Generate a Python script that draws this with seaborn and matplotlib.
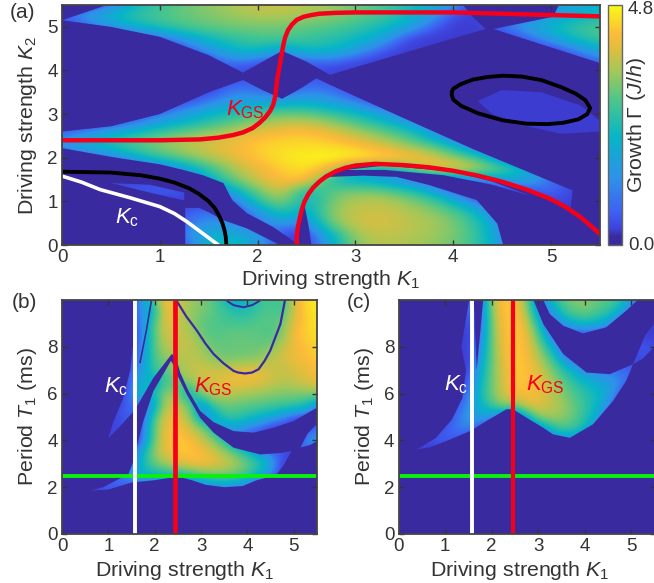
import numpy as np
import matplotlib
matplotlib.use("Agg")
import matplotlib.pyplot as plt
from matplotlib.cm import ScalarMappable
from matplotlib.colors import LinearSegmentedColormap, Normalize
from matplotlib.patches import Polygon
import seaborn as sns

# Panel (a): growth rate, rows K2 = 5.5 ... 0 in steps of 0.25
GAMMA_A = [
    [0,0,.4,1.5,2,2.5,2.8,3.1,3.4,3.4,3.2,3,2.6,2.3,1.8,1.4,.8,0,0,.3,.8,1.2,1.3],
    [.4,1,1.5,2,2.3,2.5,2.7,2.9,3.1,3.1,3,2.8,2.5,2.2,1.6,1,.2,0,.2,.5,.9,1.3,1.6],
    [0,.3,.8,1.3,1.8,2.2,2.4,2.6,2.6,2.6,2.4,2.3,2,1.7,1.2,.5,0,0,.5,1,1.5,2,2.3],
    [0,0,0,0,.3,1,1.6,2,2.2,2.3,2.1,1.9,1.6,1.2,.3,0,0,0,0,.4,1,1.7,2.2],
    [0,0,0,0,0,.2,.9,1.5,1.8,1.1,1.7,1.6,1.1,.5,0,0,0,0,0,0,.1,.7,1.3],
    [0,0,0,0,0,0,.2,.8,.5,.1,.5,.6,.3,0,0,0,0,0,0,0,0,.1,.6],
    [0,0,0,0,0,0,0,.2,0,0,.2,0,0,0,0,0,0,0,0,0,0,0,0],
    [0,0,0,0,0,0,0,.3,.3,0,.4,.3,0,0,0,0,0,0,0,0,0,0,0],
    [0,0,0,0,0,0,.1,.7,.6,.3,.7,.6,.2,0,0,0,0,0,0,0,0,0,0],
    [0,0,0,0,0,.2,.7,1,1.1,1.2,1.3,1,.7,.2,0,0,0,0,0,0,0,0,0],
    [0,0,0,.2,.5,1,1.4,1.8,2.2,2.6,2.5,2.1,1.6,1.1,.4,0,0,0,0,0,0,0,0],
    [0,.1,.3,.6,1.2,1.6,2.1,2.6,3.1,3.4,3.5,3.1,2.5,1.9,1.3,.6,0,0,0,0,0,0,0],
    [.6,1,1.5,2,2.5,2.9,3.2,3.5,3.9,4.1,4.2,3.9,3.4,2.9,2.3,1.3,.2,0,0,0,0,0,0],
    [.8,1.3,1.8,2.3,2.8,3.2,3.5,3.8,4.2,4.4,4.4,4.4,4.1,3.6,3.1,2.5,1.6,.2,0,0,0,0,0],
    [0,.1,.3,1.2,1.9,2.5,3.1,3.6,4.1,4.5,4.7,4.8,4.8,4.6,4.2,3.8,2.9,2.1,.2,0,0,0,0],
    [0,0,0,0,.1,.9,2,3,3.7,4.2,4.5,3.7,1.6,1.2,2,3.6,4,3.4,2.5,1.3,.3,0,0],
    [0,0,0,.1,.1,.1,1.2,2.6,3.4,4,4.2,1.5,1.2,1,.3,0,0,.3,1,1.2,.5,0,0],
    [0,0,.2,.3,.4,.3,0,1.2,2.6,3.6,1.5,2.4,2.6,2.5,2,1.2,.2,0,0,.2,.5,.1,0],
    [0,0,0,0,0,0,0,.2,1.8,3,1.2,2.6,3.2,3.3,2.9,2.4,1.4,.3,0,0,.2,0,0],
    [0,0,0,0,0,.3,.6,.1,.6,2,1,2.9,3.3,3.4,3.2,2.9,2.4,1.4,.2,0,0,0,0],
    [0,0,0,0,0,.4,.9,.7,.3,1,.4,2.6,3.4,3.5,3.3,3.1,2.7,1.9,.5,0,0,0,0],
    [0,0,0,0,0,.6,1.4,1.2,.9,.2,0,1.4,3,3.3,3.2,3,2.7,2,.7,0,0,0,0],
    [0,0,0,0,0,.1,1.5,1.8,1,.1,0,1,2.8,3.2,3.1,2.9,2.6,2,.8,0,0,0,0],
]

# Panel (b): rows T1 = 10 ... 0 in steps of 0.5
GAMMA_B = [
    [0]*6+[.2,.9,2.5,4,3.5,3,2.7,2.4,1.7,1.2,1.4,2,2.2,2,3.4,4.4,4.6],
    [0]*6+[.1,.9,1.5,3.9,3.4,2.9,2.7,2.4,2.1,1.8,1.8,2.1,2.4,2,3.4,4.2,4.6],
    [0]*6+[.1,.7,2.4,3.7,3.3,3,2.4,2.3,2.2,2.2,2.2,2.4,2.3,2.6,3.6,4.2,4.5],
    [0]*6+[.1,.6,2.4,3.5,3.3,3.2,2.6,2.3,2.4,2.5,2.5,2.4,2.2,2.7,3.8,4.2,4.4],
    [0]*6+[.1,.7,2.4,3.2,3.3,3.3,3,2.5,2.5,2.5,2.5,2.5,2.7,3.3,3.7,4,4.3],
    [0]*6+[.2,.8,2.3,2.8,3.1,3.2,3.1,2.8,2.6,2.6,2.7,2.8,3.2,3.4,3.7,3.9,4.2],
    [0]*6+[.3,1,2.1,2.4,3,3.2,3.5,3.4,3.4,3.6,3.7,3.6,3.4,3.3,3.4,3.6,3.9],
    [0]*6+[.4,1.6,1,2.2,2.3,2.9,3.3,3.5,3.6,3.8,3.8,3.6,3.4,3.2,3.3,3.5,3.7],
    [0]*6+[.5,1.8,1.5,3.1,2.6,1,2.9,3.2,3.3,3.1,3,2.9,2.8,2.7,2.7,2.7,2.8],
    [0]*5+[.2,.5,.3,1,3.4,3.2,2.6,.3,2.2,2.5,2.5,2.4,2.3,2.2,2.1,2,1.8,.6],
    [0]*5+[.2,.4,0,2.2,3.7,3.6,3,1,.7,2,2,1.7,1.4,1.1,.7,.2,0,0],
    [0]*4+[.1,.2,.2,.3,2.6,3.7,4,3.4,2.9,1.8,.4,1,.6,.4,0,0,0,.1,.5],
    [0]*4+[.1,0,0,.3,2.6,3.8,4.2,3.9,3.4,2.8,1.9,.4,0,0,0,0,0,.8,1],
    [0]*6+[0,1.4,3,3.6,4.1,4.2,3.9,3.5,3,2.4,1.6,.8,.4,.3,.1,.3,0],
    [0]*6+[.3,1.7,2.5,3,3.4,3.7,3.9,3.7,3.5,3.1,2.6,2,1.2,.1,0,0,0],
    [0]*4+[.3,.6,1,1.4,1.4,1.6,1.6,1.8,2.2,2.5,2.5,2.4,2,1.3,.5,0,0,0,0],
    [0,0,0,.2,.4,.3,.2,.1,.1,.1,.1,.1,.1,.5,.7,.5,.2,0,0,0,0,0,0],
    [0]*23, [0]*23, [0]*23, [0]*23,
]

# Panel (c): rows T1 = 10 ... 0 in steps of 0.5
GAMMA_C = [
    [0]*6+[.8,0,3,4.2,4,2.6,.2,1.5,2.3,2.7,2.8,2.5,2.3,2,1,0,0],
    [0]*6+[.6,0,2.8,4.1,4.1,3,.7,.6,1.9,2.4,2.6,2.3,2,1.2,.3,0,0],
    [0]*6+[.3,0,2.7,4,4.2,3.4,1.6,0,.8,1.3,1.6,1.3,.9,.1,0,0,0],
    [0]*6+[.1,.3,2.6,3.9,4.2,3.7,2.3,.5,0,0,0,0,0,0,0,0,0],
    [0]*6+[.1,.6,2.6,3.8,4.2,3.8,2.8,1.5,.2,0,0,0,0,0,0,.4,.1],
    [0]*6+[0,.9,2.5,3.7,4.2,3.9,3.2,2.3,1,.2,0,0,0,0,0,.3,0],
    [0]*6+[.1,1.2,2.6,3.6,4.2,4,3.5,2.8,2,1.3,.7,.5,.5,.5,.5,0,0],
    [0]*6+[.3,1.4,2.6,3.5,4.1,4,3.7,3.2,2.5,1.9,1.5,1.2,1,.7,.3,0,0],
    [0]*5+[.2,.5,1.6,2.6,3.5,3.9,3.9,3.7,3.3,2.8,2.3,1.9,1.6,1.1,.4,0,0,0],
    [0]*5+[.3,.8,1.4,2.2,2.9,2.6,3.6,3.6,3.3,3,2.5,2,1.5,.7,0,0,0,0],
    [0]*4+[.1,.5,.9,1.2,.5,0,0,1,2.9,3,2.9,2.5,1.9,1.2,.2,0,0,0,0],
    [0,0,0,.1,.3,.6,.7,0,0,0,0,0,.2,1.6,2.2,2.1,1.5,.5,0,0,0,0,0],
    [0,0,.1,.3,.4,.2,0,0,0,0,0,0,0,0,.5,.5,.1,0,0,0,0,0,0],
    [0]*23, [0]*23, [0]*23, [0]*23, [0]*23, [0]*23, [0]*23, [0]*23,
]

# Outlines of the non-zero regions as (K1, K2 or T1)
REGIONS_A = [
    [(0,5.15),(.46,5.5),(4.1,5.5),(4.2,5.22),(4.33,4.95),(3.87,4.65),(2.74,3.9),(2.5,4.2),(2.25,4.45),(2.05,4.2),(1.85,3.95),(1.5,4.35),(1,4.77),(.5,5.0)],
    [(4.41,4.95),(5.02,5.23),(5.08,5.5),(5.5,5.5),(5.5,4.17)],
    [(0,2.6),(.5,2.72),(1,3.0),(1.3,3.3),(1.5,3.5),(1.85,3.78),(2.05,3.55),(2.25,3.35),(2.45,3.6),(2.6,3.82),(2.74,3.67),(3.5,2.9),(4.2,2.2),(5.22,1.25),(5.2,.85),(5,1.05),(4.5,1.45),(4,1.7),(3.5,1.83),(3,1.82),(2.8,1.69),(2.63,1.45),(2.52,1.17),(2.45,.8),(2.41,.4),(2.38,.07),(2.16,.41),(1.89,.73),(1.74,1.03),(1.65,1.42),(1.44,1.6),(1.24,1.72),(1,1.85),(.5,2.02),(0,2.22)],
    [(2.55,0),(2.52,.45),(2.48,.9),(2.53,1.25),(2.64,1.45),(2.74,1.56),(3.08,1.59),(3.42,1.56),(3.76,1.37),(4.24,1.03),(4.45,.49),(4.51,0)],
    [(2.9,1.72),(3.3,1.82),(4,1.68),(4.4,1.45),(4.8,1.12),(4.4,1.38),(3.9,1.6),(3.3,1.72)],
    [(1.26,0),(1.26,.85),(1.4,.85),(1.5,.75),(1.65,.57),(1.89,.38),(2.2,.03),(2.2,0)],
    [(.5,1.42),(.9,1.38),(1.25,1.2),(1.25,1.02),(.9,1.2)],
    [(4.25,3.3),(4.5,3.55),(4.9,3.5),(5.3,3.2),(5.5,2.85),(5.5,2.6),(5.1,2.55),(4.7,2.75),(4.4,3.0)],
]
REGIONS_B = [
    [(1.0,4.1),(1.1,4.75),(1.32,5.8),(1.47,7),(1.55,8.4),(1.62,10),(5.5,10),(5.5,5.4),(5,4.83),(4.56,4.54),(4.13,4.33),(3.7,4.4),(3.27,4.78),(2.98,5.26),(2.73,6.11),(2.55,6.9),(2.47,7.47),(2.37,7.7),(1.97,6.67),(1.68,5.67),(1.57,5.3),(1.25,4.6)],
    [(2.35,7.4),(1.97,6.1),(1.75,4.8),(1.61,3.7),(1.54,3.1),(1.43,2.55),(1.18,2.3),(.89,2.0),(.6,1.85),(1,1.9),(1.5,2.2),(2,2.3),(2.5,2.45),(2.8,2.3),(3.1,2.1),(3.5,2),(3.9,2.05),(4.2,2.3),(4.4,2.4),(4.63,2.54),(4.8,3),(4.95,3.55),(4.7,3.46),(4.27,3.4),(3.7,3.69),(3.27,4.33),(2.98,4.97),(2.69,5.97),(2.51,6.69),(2.44,7.1)],
    [(5.14,3.69),(5.3,4.3),(5.5,4.7),(5.5,3.97),(5.35,3.8)],
]
REGIONS_C = [
    [(.39,3.61),(.8,4.1),(1.15,4.9),(1.37,5.8),(1.45,7),(1.35,8),(1.52,10),(1.62,10),(1.68,7),(1.82,10),(2.9,10),(3.11,8.97),(3.54,7.69),(4.04,6.9),(4.54,6.83),(5.04,7.26),(4.89,6.54),(4.61,5.69),(4.18,4.69),(3.68,4.11),(3.32,4.26),(3.11,4.54),(2.75,4.97),(2.46,5.33),(2.32,5.33),(1.89,4.83),(1.54,4.4),(1.11,4.04),(.68,3.71)],
    [(5.04,7.26),(5.3,8.5),(5.5,9.0),(5.5,8),(5.25,7.5)],
    [(3.11,10),(3.25,9.4),(3.54,8.9),(3.96,8.57),(4.46,8.83),(4.89,9.54),(5.14,10)],
]

# Curves of panel (a)
KGS_UPPER_K1 = [0, .5, 1, 1.41, 1.6, 1.75, 1.85, 1.95, 2.02, 2.08, 2.13, 2.16, 2.18, 2.19, 2.2, 2.22, 2.24, 2.26, 2.28, 2.31, 2.35, 2.4, 2.47, 2.55, 2.63, 2.8, 3, 4, 5, 5.5]
KGS_UPPER_K2 = [2.4, 2.4, 2.4, 2.42, 2.46, 2.52, 2.58, 2.68, 2.8, 2.93, 3.08, 3.22, 3.4, 3.6, 3.8, 4.05, 4.3, 4.55, 4.75, 4.92, 5.05, 5.16, 5.23, 5.27, 5.3, 5.32, 5.33, 5.33, 5.27, 5.24]
KGS_LOWER_K1 = [2.4, 2.4, 2.41, 2.43, 2.45, 2.48, 2.52, 2.57, 2.63, 2.7, 2.8, 2.9, 3, 3.2, 3.5, 3.75, 4, 4.25, 4.5, 4.75, 5, 5.15, 5.3, 5.4, 5.5]
KGS_LOWER_K2 = [0, .2, .4, .6, .8, 1, 1.17, 1.32, 1.45, 1.57, 1.69, 1.77, 1.82, 1.86, 1.83, 1.78, 1.7, 1.59, 1.45, 1.27, 1.05, .87, .64, .45, .25]
BLACK_K1 = [0, .5, .8, 1, 1.15, 1.3, 1.4, 1.5, 1.56, 1.6, 1.64, 1.66, 1.675, 1.68]
BLACK_K2 = [1.68, 1.66, 1.6, 1.52, 1.43, 1.3, 1.17, 1.0, .85, .7, .5, .35, .18, 0]
WHITE_K1 = [0, .2, .39, .7, 1, 1.15, 1.28, 1.4, 1.49, 1.55, 1.6]
WHITE_K2 = [1.58, 1.44, 1.27, 1.08, .88, .72, .53, .33, .18, .08, 0]
ELLIPSE_K1 = [3.98, 4.0, 4.07, 4.2, 4.35, 4.51, 4.7, 4.9, 5.1, 5.25, 5.35, 5.4, 5.37, 5.28, 5.12, 4.96, 4.75, 4.5, 4.25, 4.08, 4.0, 3.98]
ELLIPSE_K2 = [3.48, 3.58, 3.68, 3.79, 3.85, 3.88, 3.86, 3.78, 3.62, 3.47, 3.32, 3.14, 3.0, 2.88, 2.8, 2.77, 2.78, 2.86, 3.02, 3.19, 3.33, 3.48]

# Thin dark arcs of panel (b)
ARC_U_K1 = [2.47, 2.68, 2.91, 3.09, 3.27, 3.48, 3.70, 3.8, 3.95, 4.1, 4.24, 4.37, 4.49, 4.6, 4.71, 4.81]
ARC_U_T1 = [9.97, 9.3, 8.69, 8.15, 7.69, 7.3, 6.97, 6.9, 6.86, 6.9, 7.04, 7.4, 7.83, 8.4, 8.97, 10]
ARC_TOP_K1 = [3.55, 3.7, 3.91, 4.1, 4.27]
ARC_TOP_T1 = [9.97, 9.78, 9.69, 9.78, 9.97]
ARC_LEFT_K1 = [1.93, 1.82, 1.68]
ARC_LEFT_T1 = [10, 8.7, 7.3]

KC_B, KGS_B, KC_C, KGS_C, T_LINE = 1.57, 2.43, 1.58, 2.45, 2.5
RED, GREEN = "#F5001A", "#0CF00C"

sns.set_theme(style="ticks")
plt.rcParams.update({
    "font.family": ["Liberation Sans", "DejaVu Sans"],
    "mathtext.fontset": "custom",
    "mathtext.rm": "Liberation Sans",
    "mathtext.it": "Liberation Sans:italic",
    "mathtext.bf": "Liberation Sans:bold",
    "text.color": "#333333",
    "axes.labelcolor": "#333333",
    "xtick.color": "#333333",
    "ytick.color": "#333333",
})

DARK = "#3A2A9F"
RAMP = [(0.14, "#3E62F2"), (0.28, "#2E92EA"), (0.45, "#06B5C8"), (0.60, "#4AC68C"),
        (0.72, "#A0C85A"), (0.82, "#E0BE3E"), (0.88, "#FDBB3A"), (1.00, "#F9FB15")]
inside = LinearSegmentedColormap.from_list("inside", [
    (0.0, "#3D3CD0"), (0.03, "#3D48E0"), (0.08, "#3E62F2"), (0.16, "#2E92EA"),
    (0.30, "#06B5C8"), (0.47, "#4AC68C"), (0.62, "#A0C85A"), (0.74, "#E0BE3E"),
    (0.82, "#FDBB3A"), (1.00, "#F9FB15")], N=512)
parula = LinearSegmentedColormap.from_list(
    "parula_like", [(0.0, DARK), (0.035, DARK), (0.07, "#3D44DC")] + RAMP, N=512)
NORM = Normalize(0, 4.8)

W, H = 654, 583
fig = plt.figure(figsize=(W / 100, H / 100), dpi=100)


def new_axes(left, top, right, bottom):
    return fig.add_axes([left / W, 1 - bottom / H, (right - left) / W, (bottom - top) / H])


def panel(ax, grid, regions, y_step, y_max, yticks, ylabel, xpad, xlabel_x):
    extent = [-0.125, 5.625, -y_step / 2, y_max + y_step / 2]
    ax.set_facecolor(DARK)
    data = np.array(grid, float)
    for outline in regions:
        im = ax.imshow(data, cmap=inside, norm=NORM, extent=extent, aspect="auto",
                       interpolation="bicubic", interpolation_stage="data")
        im.set_clip_path(Polygon(outline, closed=True, transform=ax.transData))
    ax.set_xlim(0, 5.5)
    ax.set_ylim(0, y_max)
    ax.set_xticks(range(6))
    ax.set_yticks(yticks)
    ax.tick_params(direction="in", top=True, right=True, length=3.5, width=1,
                   labelsize=13.5, pad=3)
    ax.set_xlabel(r"Driving strength $K_1$", fontsize=15.4, labelpad=xpad, x=xlabel_x)
    ax.set_ylabel(ylabel, fontsize=15.4, labelpad=6)
    for s in ax.spines.values():
        s.set_color("#444444")
        s.set_linewidth(1.3)


def curve(ax, x, y, color, lw):
    sns.lineplot(x=x, y=y, ax=ax, color=color, linewidth=lw, sort=False, estimator=None,
                 legend=False, solid_capstyle="butt")


# Panel (a)
ax_a = new_axes(62, 5, 600, 245)
panel(ax_a, GAMMA_A, REGIONS_A, 0.25, 5.5, range(6), r"Driving strength $K_2$", 1, 0.5)
curve(ax_a, WHITE_K1, WHITE_K2, "white", 2.6)
curve(ax_a, BLACK_K1, BLACK_K2, "black", 2.8)
curve(ax_a, ELLIPSE_K1, ELLIPSE_K2, "black", 2.8)
curve(ax_a, KGS_UPPER_K1, KGS_UPPER_K2, RED, 3.2)
curve(ax_a, KGS_LOWER_K1, KGS_LOWER_K2, RED, 3.2)
ax_a.text(1.68, 3.1, r"$K_{\mathrm{GS}}$", color=RED, fontsize=16, va="center")
ax_a.text(0.54, 0.62, r"$K_{\mathrm{c}}$", color="white", fontsize=16, va="center")

cax = new_axes(608, 5, 622, 245)
cb = fig.colorbar(ScalarMappable(norm=NORM, cmap=parula), cax=cax)
cb.set_ticks([])
cb.outline.set_edgecolor("#666666")
cb.outline.set_linewidth(1)
fig.text(628 / W, 1 - 9 / H, "4.8", fontsize=13.5, va="center", ha="left")
fig.text(628 / W, 1 - 245 / H, "0.0", fontsize=13.5, va="center", ha="left")
fig.text(637 / W, 1 - 125 / H, r"Growth Γ ($J/h$)", fontsize=15.4, rotation=90,
         va="center", ha="center")

# Panel (b)
ax_b = new_axes(62, 300, 317, 534)
panel(ax_b, GAMMA_B, REGIONS_B, 0.5, 10, [0, 2, 4, 6, 8], r"Period $T_1$ (ms)", 3, 0.48)
curve(ax_b, ARC_U_K1, ARC_U_T1, DARK, 1.6)
curve(ax_b, ARC_TOP_K1, ARC_TOP_T1, DARK, 1.4)
curve(ax_b, ARC_LEFT_K1, ARC_LEFT_T1, DARK, 1.2)
curve(ax_b, [0, 5.5], [T_LINE, T_LINE], GREEN, 2.8)
curve(ax_b, [KC_B, KC_B], [0, 10], "white", 2.8)
curve(ax_b, [KGS_B, KGS_B], [0, 10], RED, 3.4)
ax_b.text(0.9, 6.3, r"$K_{\mathrm{c}}$", color="white", fontsize=16, va="center")
ax_b.text(2.85, 6.3, r"$K_{\mathrm{GS}}$", color=RED, fontsize=16, va="center")

# Panel (c)
ax_c = new_axes(398.5, 300, 654.5, 534)
panel(ax_c, GAMMA_C, REGIONS_C, 0.5, 10, [0, 2, 4, 6, 8], r"Period $T_1$ (ms)", 3, 0.473)
curve(ax_c, [0, 5.5], [T_LINE, T_LINE], GREEN, 2.8)
curve(ax_c, [KC_C, KC_C], [0, 10], "white", 2.8)
curve(ax_c, [KGS_C, KGS_C], [0, 10], RED, 3.0)
ax_c.text(0.97, 6.4, r"$K_{\mathrm{c}}$", color="white", fontsize=16, va="center")
ax_c.text(2.75, 6.4, r"$K_{\mathrm{GS}}$", color=RED, fontsize=16, va="center")

fig.text(10 / W, 1 - 12 / H, "(a)", fontsize=15, va="center", ha="left")
fig.text(12 / W, 1 - 303 / H, "(b)", fontsize=15, va="center", ha="left")
fig.text(347 / W, 1 - 303 / H, "(c)", fontsize=15, va="center", ha="left")

fig.savefig("out.png", dpi=100)
